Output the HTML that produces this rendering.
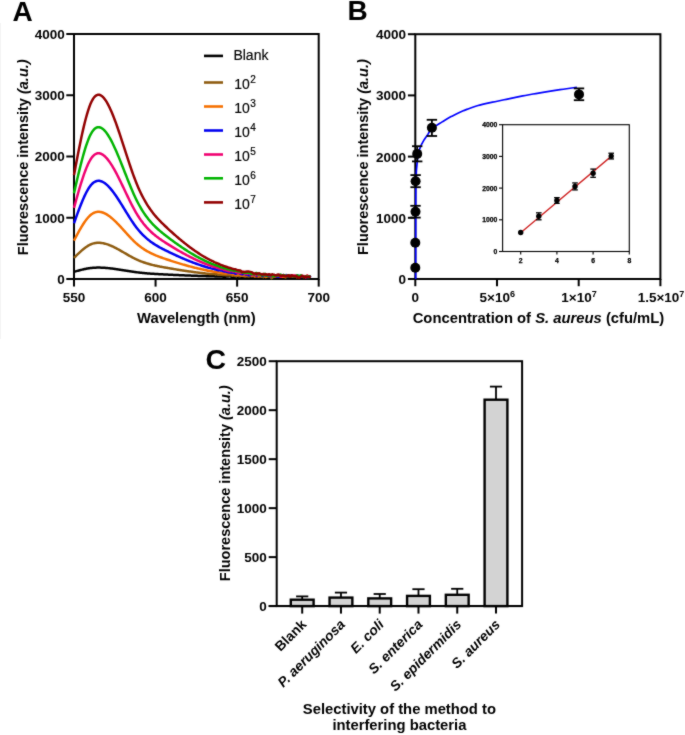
<!DOCTYPE html>
<html><head><meta charset="utf-8"><style>
html,body{margin:0;padding:0;background:#fff;}
body{width:685px;height:735px;overflow:hidden;}
svg{display:block;will-change:transform;}
</style></head><body>
<svg width="685" height="735" viewBox="0 0 685 735">
<defs><filter id="soft" x="0" y="0" width="100%" height="100%" filterUnits="userSpaceOnUse" color-interpolation-filters="sRGB"><feConvolveMatrix order="3" kernelMatrix="1 2 1 2 20 2 1 2 1" edgeMode="duplicate"/></filter></defs>
<g font-family='"Liberation Sans", sans-serif' filter="url(#soft)">
<rect x="0" y="0" width="685" height="735" fill="#fff"/>
<rect x="0" y="23" width="1" height="316" fill="#f3f3f3"/>
<text x="12.40" y="20.60" font-size="28" font-weight="bold" text-anchor="start" fill="#000" >A</text>
<text x="347.60" y="20.30" font-size="28" font-weight="bold" text-anchor="start" fill="#000" >B</text>
<text x="205.60" y="368.60" font-size="28.5" font-weight="bold" text-anchor="start" fill="#000" >C</text>
<rect x="74.0" y="34.0" width="244.7" height="245.0" fill="none" stroke="#000" stroke-width="2.0"/>
<line x1="66.30" y1="279.00" x2="74.00" y2="279.00" stroke="#000" stroke-width="2.0" />
<text x="64.80" y="283.90" font-size="13.5" font-weight="bold" text-anchor="end" fill="#000" >0</text>
<line x1="66.30" y1="217.75" x2="74.00" y2="217.75" stroke="#000" stroke-width="2.0" />
<text x="64.80" y="222.65" font-size="13.5" font-weight="bold" text-anchor="end" fill="#000" >1000</text>
<line x1="66.30" y1="156.50" x2="74.00" y2="156.50" stroke="#000" stroke-width="2.0" />
<text x="64.80" y="161.40" font-size="13.5" font-weight="bold" text-anchor="end" fill="#000" >2000</text>
<line x1="66.30" y1="95.25" x2="74.00" y2="95.25" stroke="#000" stroke-width="2.0" />
<text x="64.80" y="100.15" font-size="13.5" font-weight="bold" text-anchor="end" fill="#000" >3000</text>
<line x1="66.30" y1="34.00" x2="74.00" y2="34.00" stroke="#000" stroke-width="2.0" />
<text x="64.80" y="38.90" font-size="13.5" font-weight="bold" text-anchor="end" fill="#000" >4000</text>
<line x1="74.00" y1="279.00" x2="74.00" y2="286.60" stroke="#000" stroke-width="2.0" />
<text x="74.00" y="301.90" font-size="13.5" font-weight="bold" text-anchor="middle" fill="#000" >550</text>
<line x1="155.57" y1="279.00" x2="155.57" y2="286.60" stroke="#000" stroke-width="2.0" />
<text x="155.57" y="301.90" font-size="13.5" font-weight="bold" text-anchor="middle" fill="#000" >600</text>
<line x1="237.13" y1="279.00" x2="237.13" y2="286.60" stroke="#000" stroke-width="2.0" />
<text x="237.13" y="301.90" font-size="13.5" font-weight="bold" text-anchor="middle" fill="#000" >650</text>
<line x1="318.70" y1="279.00" x2="318.70" y2="286.60" stroke="#000" stroke-width="2.0" />
<text x="318.70" y="301.90" font-size="13.5" font-weight="bold" text-anchor="middle" fill="#000" >700</text>
<text x="196.35" y="323.30" font-size="14.8" font-weight="bold" text-anchor="middle" fill="#000" >Wavelength (nm)</text>
<text x="0.00" y="0.00" font-size="14.5" font-weight="bold" text-anchor="middle" transform="translate(27.5,157.30) rotate(-90)" fill="#000" >Fluorescence intensity <tspan font-style="italic">(a.u.)</tspan></text>
<path d="M74.00,271.81 L74.82,271.58 L75.63,271.35 L76.45,271.12 L77.26,270.90 L78.08,270.68 L78.89,270.46 L79.71,270.25 L80.53,270.04 L81.34,269.84 L82.16,269.64 L82.97,269.45 L83.79,269.26 L84.60,269.09 L85.42,268.92 L86.23,268.76 L87.05,268.60 L87.87,268.46 L88.68,268.33 L89.50,268.21 L90.31,268.09 L91.13,267.99 L91.94,267.91 L92.76,267.83 L93.58,267.76 L94.39,267.71 L95.21,267.67 L96.02,267.63 L96.84,267.61 L97.65,267.59 L98.47,267.59 L99.29,267.59 L100.10,267.61 L100.92,267.63 L101.73,267.65 L102.55,267.69 L103.36,267.73 L104.18,267.78 L105.00,267.84 L105.81,267.90 L106.63,267.97 L107.44,268.04 L108.26,268.12 L109.07,268.21 L109.89,268.29 L110.70,268.39 L111.52,268.49 L112.34,268.59 L113.15,268.69 L113.97,268.80 L114.78,268.91 L115.60,269.03 L116.41,269.15 L117.23,269.27 L118.05,269.39 L118.86,269.52 L119.68,269.64 L120.49,269.77 L121.31,269.90 L122.12,270.03 L122.94,270.17 L123.76,270.30 L124.57,270.43 L125.39,270.56 L126.20,270.69 L127.02,270.83 L127.83,270.96 L128.65,271.09 L129.47,271.22 L130.28,271.34 L131.10,271.47 L131.91,271.59 L132.73,271.71 L133.54,271.83 L134.36,271.95 L135.18,272.06 L135.99,272.17 L136.81,272.28 L137.62,272.38 L138.44,272.48 L139.25,272.57 L140.07,272.67 L140.88,272.76 L141.70,272.84 L142.52,272.93 L143.33,273.01 L144.15,273.09 L144.96,273.16 L145.78,273.24 L146.59,273.31 L147.41,273.38 L148.23,273.44 L149.04,273.51 L149.86,273.57 L150.67,273.63 L151.49,273.69 L152.30,273.75 L153.12,273.80 L153.94,273.86 L154.75,273.91 L155.57,273.96 L156.38,274.01 L157.20,274.06 L158.01,274.10 L158.83,274.15 L159.64,274.20 L160.46,274.24 L161.28,274.28 L162.09,274.33 L162.91,274.37 L163.72,274.41 L164.54,274.45 L165.35,274.49 L166.17,274.53 L166.99,274.57 L167.80,274.61 L168.62,274.65 L169.43,274.69 L170.25,274.73 L171.06,274.77 L171.88,274.81 L172.70,274.85 L173.51,274.88 L174.33,274.92 L175.14,274.96 L175.96,275.00 L176.77,275.03 L177.59,275.07 L178.41,275.11 L179.22,275.14 L180.04,275.18 L180.85,275.22 L181.67,275.25 L182.48,275.29 L183.30,275.32 L184.12,275.35 L184.93,275.39 L185.75,275.42 L186.56,275.46 L187.38,275.49 L188.19,275.52 L189.01,275.55 L189.82,275.59 L190.64,275.62 L191.46,275.65 L192.27,275.68 L193.09,275.71 L193.90,275.74 L194.72,275.77 L195.53,275.80 L196.35,275.83 L197.17,275.86 L197.98,275.89 L198.80,275.92 L199.61,275.94 L200.43,275.97 L201.24,276.00 L202.06,276.02 L202.88,276.05 L203.69,276.08 L204.51,276.10 L205.32,276.12 L206.14,276.13 L206.95,276.15 L207.77,276.16 L208.59,276.18 L209.40,276.26 L210.22,276.24 L211.03,276.28 L211.85,276.23 L212.66,276.16 L213.48,276.16 L214.29,276.23 L215.11,276.42 L215.93,276.43 L216.74,276.35 L217.56,276.43 L218.37,276.48 L219.19,276.45 L220.00,276.33 L220.82,276.41 L221.64,276.49 L222.45,276.50 L223.27,276.77 L224.08,276.80 L224.90,276.86 L225.71,276.76 L226.53,276.45 L227.35,276.46 L228.16,276.53 L228.98,276.29 L229.79,276.36 L230.61,276.61 L231.42,276.72 L232.24,277.07 L233.06,276.89 L233.87,276.94 L234.69,276.98 L235.50,276.63 L236.32,276.53 L237.13,276.55 L237.95,276.99 L238.76,276.91 L239.58,276.86 L240.40,277.00 L241.21,276.86 L242.03,276.86 L242.84,276.93 L243.66,277.12 L244.47,277.14 L245.29,277.51 L246.11,277.52 L246.92,277.27 L247.74,276.92 L248.55,276.19 L249.37,277.11 L250.18,277.47 L251.00,276.91 L251.82,277.30 L252.63,277.10 L253.45,276.91 L254.26,277.68 L255.08,277.62 L255.89,277.09 L256.71,276.97 L257.52,277.33 L258.34,277.17 L259.16,276.53 L259.97,277.11 L260.79,277.58 L261.60,277.23 L262.42,277.20 L263.23,276.61 L264.05,276.35 L264.87,277.27 L265.68,277.60 L266.50,277.29 L267.31,276.27 L268.13,276.32 L268.94,277.04 L269.76,276.81 L270.58,276.87 L271.39,276.29 L272.21,276.45 L273.02,276.96 L273.84,276.74 L274.65,276.78 L275.47,277.23 L276.29,276.85 L277.10,276.51 L277.92,277.08 L278.73,277.35 L279.55,277.60 L280.36,277.11 L281.18,276.55 L282.00,276.49 L282.81,276.42 L283.63,276.43 L284.44,276.83 L285.26,276.79 L286.07,276.61 L286.89,276.92 L287.70,276.88 L288.52,276.42 L289.34,276.59 L290.15,277.13 L290.97,276.97 L291.78,276.23 L292.60,276.54 L293.41,277.20 L294.23,277.18 L295.05,276.75 L295.86,277.32 L296.68,277.60 L297.49,276.61 L298.31,277.00 L299.12,276.90 L299.94,276.46 L300.76,277.14 L301.57,277.25 L302.39,277.58 L303.20,277.84 L304.02,276.74 L304.83,276.85 L305.65,276.85 L306.47,276.58 L307.28,276.86 L308.10,276.82 L308.91,277.89 L309.73,278.09 L310.54,277.29" fill="none" stroke="#000000" stroke-width="2.5" stroke-linejoin="round"/>
<path d="M74.00,257.92 L74.82,257.10 L75.63,256.28 L76.45,255.47 L77.26,254.66 L78.08,253.87 L78.89,253.09 L79.71,252.32 L80.53,251.58 L81.34,250.85 L82.16,250.14 L82.97,249.45 L83.79,248.79 L84.60,248.15 L85.42,247.54 L86.23,246.96 L87.05,246.42 L87.87,245.90 L88.68,245.43 L89.50,244.99 L90.31,244.59 L91.13,244.23 L91.94,243.91 L92.76,243.64 L93.58,243.40 L94.39,243.21 L95.21,243.05 L96.02,242.93 L96.84,242.84 L97.65,242.79 L98.47,242.77 L99.29,242.79 L100.10,242.83 L100.92,242.90 L101.73,243.00 L102.55,243.13 L103.36,243.29 L104.18,243.47 L105.00,243.67 L105.81,243.89 L106.63,244.13 L107.44,244.40 L108.26,244.68 L109.07,244.98 L109.89,245.30 L110.70,245.64 L111.52,245.99 L112.34,246.36 L113.15,246.74 L113.97,247.13 L114.78,247.53 L115.60,247.95 L116.41,248.37 L117.23,248.81 L118.05,249.25 L118.86,249.70 L119.68,250.16 L120.49,250.62 L121.31,251.08 L122.12,251.55 L122.94,252.03 L123.76,252.50 L124.57,252.98 L125.39,253.45 L126.20,253.93 L127.02,254.40 L127.83,254.87 L128.65,255.34 L129.47,255.80 L130.28,256.26 L131.10,256.71 L131.91,257.15 L132.73,257.59 L133.54,258.01 L134.36,258.43 L135.18,258.83 L135.99,259.23 L136.81,259.61 L137.62,259.97 L138.44,260.33 L139.25,260.68 L140.07,261.01 L140.88,261.33 L141.70,261.65 L142.52,261.95 L143.33,262.24 L144.15,262.53 L144.96,262.80 L145.78,263.06 L146.59,263.32 L147.41,263.57 L148.23,263.81 L149.04,264.04 L149.86,264.26 L150.67,264.48 L151.49,264.69 L152.30,264.90 L153.12,265.10 L153.94,265.29 L154.75,265.48 L155.57,265.66 L156.38,265.84 L157.20,266.01 L158.01,266.18 L158.83,266.34 L159.64,266.51 L160.46,266.66 L161.28,266.82 L162.09,266.97 L162.91,267.12 L163.72,267.27 L164.54,267.42 L165.35,267.57 L166.17,267.71 L166.99,267.85 L167.80,268.00 L168.62,268.14 L169.43,268.28 L170.25,268.42 L171.06,268.56 L171.88,268.70 L172.70,268.84 L173.51,268.98 L174.33,269.11 L175.14,269.25 L175.96,269.38 L176.77,269.52 L177.59,269.65 L178.41,269.78 L179.22,269.91 L180.04,270.04 L180.85,270.17 L181.67,270.29 L182.48,270.42 L183.30,270.54 L184.12,270.67 L184.93,270.79 L185.75,270.91 L186.56,271.03 L187.38,271.15 L188.19,271.27 L189.01,271.39 L189.82,271.50 L190.64,271.61 L191.46,271.73 L192.27,271.84 L193.09,271.95 L193.90,272.06 L194.72,272.17 L195.53,272.27 L196.35,272.38 L197.17,272.48 L197.98,272.58 L198.80,272.68 L199.61,272.78 L200.43,272.88 L201.24,272.98 L202.06,273.07 L202.88,273.17 L203.69,273.26 L204.51,273.35 L205.32,273.44 L206.14,273.56 L206.95,273.63 L207.77,273.69 L208.59,273.82 L209.40,273.91 L210.22,273.96 L211.03,274.03 L211.85,274.06 L212.66,274.11 L213.48,274.12 L214.29,274.12 L215.11,274.25 L215.93,274.33 L216.74,274.33 L217.56,274.42 L218.37,274.71 L219.19,274.76 L220.00,274.69 L220.82,274.66 L221.64,274.71 L222.45,274.89 L223.27,274.91 L224.08,274.81 L224.90,274.88 L225.71,275.19 L226.53,275.23 L227.35,275.30 L228.16,275.37 L228.98,275.35 L229.79,275.38 L230.61,275.09 L231.42,275.25 L232.24,275.63 L233.06,275.63 L233.87,275.55 L234.69,275.78 L235.50,276.11 L236.32,275.91 L237.13,275.69 L237.95,275.72 L238.76,275.99 L239.58,276.22 L240.40,276.02 L241.21,275.49 L242.03,275.56 L242.84,275.90 L243.66,275.90 L244.47,276.22 L245.29,276.45 L246.11,276.30 L246.92,276.16 L247.74,276.12 L248.55,276.58 L249.37,276.27 L250.18,275.42 L251.00,275.85 L251.82,276.27 L252.63,276.12 L253.45,276.01 L254.26,276.60 L255.08,276.35 L255.89,276.04 L256.71,276.17 L257.52,276.00 L258.34,276.54 L259.16,276.61 L259.97,276.19 L260.79,276.42 L261.60,276.83 L262.42,276.70 L263.23,277.13 L264.05,276.55 L264.87,275.80 L265.68,276.23 L266.50,276.03 L267.31,276.33 L268.13,276.73 L268.94,275.85 L269.76,275.51 L270.58,276.78 L271.39,278.17 L272.21,277.78 L273.02,276.35 L273.84,276.16 L274.65,276.57 L275.47,276.22 L276.29,276.43 L277.10,276.55 L277.92,276.00 L278.73,275.91 L279.55,276.04 L280.36,276.38 L281.18,276.34 L282.00,276.28 L282.81,276.02 L283.63,275.04 L284.44,275.70 L285.26,277.24 L286.07,277.14 L286.89,276.31 L287.70,275.83 L288.52,275.61 L289.34,276.20 L290.15,276.81 L290.97,276.15 L291.78,276.25 L292.60,276.31 L293.41,276.04 L294.23,276.15 L295.05,275.86 L295.86,275.87 L296.68,275.84 L297.49,276.43 L298.31,276.61 L299.12,276.30 L299.94,276.32 L300.76,275.94 L301.57,276.15 L302.39,276.80 L303.20,276.98 L304.02,276.87 L304.83,276.42 L305.65,276.62 L306.47,276.49 L307.28,276.12 L308.10,276.56 L308.91,277.08 L309.73,276.91 L310.54,276.25" fill="none" stroke="#8E5C10" stroke-width="2.5" stroke-linejoin="round"/>
<path d="M74.00,240.60 L74.82,239.03 L75.63,237.47 L76.45,235.92 L77.26,234.40 L78.08,232.89 L78.89,231.41 L79.71,229.95 L80.53,228.53 L81.34,227.14 L82.16,225.79 L82.97,224.49 L83.79,223.23 L84.60,222.02 L85.42,220.86 L86.23,219.76 L87.05,218.72 L87.87,217.75 L88.68,216.84 L89.50,216.00 L90.31,215.24 L91.13,214.56 L91.94,213.96 L92.76,213.44 L93.58,212.99 L94.39,212.62 L95.21,212.32 L96.02,212.09 L96.84,211.93 L97.65,211.83 L98.47,211.80 L99.29,211.82 L100.10,211.91 L100.92,212.05 L101.73,212.24 L102.55,212.48 L103.36,212.77 L104.18,213.11 L105.00,213.50 L105.81,213.92 L106.63,214.39 L107.44,214.89 L108.26,215.43 L109.07,216.00 L109.89,216.61 L110.70,217.25 L111.52,217.92 L112.34,218.61 L113.15,219.33 L113.97,220.08 L114.78,220.85 L115.60,221.63 L116.41,222.44 L117.23,223.27 L118.05,224.11 L118.86,224.97 L119.68,225.83 L120.49,226.71 L121.31,227.60 L122.12,228.49 L122.94,229.39 L123.76,230.29 L124.57,231.19 L125.39,232.10 L126.20,233.00 L127.02,233.90 L127.83,234.79 L128.65,235.68 L129.47,236.56 L130.28,237.43 L131.10,238.28 L131.91,239.13 L132.73,239.95 L133.54,240.76 L134.36,241.55 L135.18,242.32 L135.99,243.07 L136.81,243.79 L137.62,244.49 L138.44,245.17 L139.25,245.83 L140.07,246.46 L140.88,247.08 L141.70,247.67 L142.52,248.25 L143.33,248.80 L144.15,249.34 L144.96,249.86 L145.78,250.36 L146.59,250.85 L147.41,251.32 L148.23,251.78 L149.04,252.22 L149.86,252.65 L150.67,253.06 L151.49,253.46 L152.30,253.85 L153.12,254.23 L153.94,254.59 L154.75,254.95 L155.57,255.30 L156.38,255.64 L157.20,255.96 L158.01,256.29 L158.83,256.60 L159.64,256.91 L160.46,257.21 L161.28,257.50 L162.09,257.79 L162.91,258.08 L163.72,258.36 L164.54,258.64 L165.35,258.92 L166.17,259.20 L166.99,259.47 L167.80,259.74 L168.62,260.01 L169.43,260.28 L170.25,260.55 L171.06,260.82 L171.88,261.08 L172.70,261.34 L173.51,261.60 L174.33,261.86 L175.14,262.12 L175.96,262.38 L176.77,262.63 L177.59,262.88 L178.41,263.13 L179.22,263.38 L180.04,263.62 L180.85,263.87 L181.67,264.11 L182.48,264.35 L183.30,264.58 L184.12,264.82 L184.93,265.05 L185.75,265.28 L186.56,265.51 L187.38,265.74 L188.19,265.96 L189.01,266.18 L189.82,266.40 L190.64,266.62 L191.46,266.83 L192.27,267.04 L193.09,267.25 L193.90,267.46 L194.72,267.67 L195.53,267.87 L196.35,268.07 L197.17,268.26 L197.98,268.46 L198.80,268.65 L199.61,268.84 L200.43,269.03 L201.24,269.21 L202.06,269.39 L202.88,269.57 L203.69,269.74 L204.51,269.92 L205.32,270.08 L206.14,270.25 L206.95,270.45 L207.77,270.68 L208.59,270.83 L209.40,270.97 L210.22,271.09 L211.03,271.15 L211.85,271.29 L212.66,271.49 L213.48,271.64 L214.29,271.68 L215.11,271.86 L215.93,272.01 L216.74,272.03 L217.56,272.20 L218.37,272.25 L219.19,272.45 L220.00,272.62 L220.82,272.75 L221.64,273.05 L222.45,273.19 L223.27,273.16 L224.08,273.25 L224.90,273.41 L225.71,273.54 L226.53,273.50 L227.35,273.17 L228.16,273.37 L228.98,273.48 L229.79,273.51 L230.61,273.50 L231.42,273.65 L232.24,274.38 L233.06,274.21 L233.87,274.02 L234.69,274.57 L235.50,274.76 L236.32,274.96 L237.13,274.94 L237.95,274.90 L238.76,274.61 L239.58,274.29 L240.40,275.06 L241.21,275.63 L242.03,275.45 L242.84,275.62 L243.66,275.57 L244.47,275.16 L245.29,275.39 L246.11,275.57 L246.92,275.29 L247.74,274.80 L248.55,274.55 L249.37,274.98 L250.18,275.20 L251.00,275.47 L251.82,275.64 L252.63,275.75 L253.45,275.70 L254.26,275.82 L255.08,276.39 L255.89,276.04 L256.71,275.60 L257.52,276.07 L258.34,276.43 L259.16,275.96 L259.97,275.74 L260.79,276.06 L261.60,276.12 L262.42,275.96 L263.23,275.57 L264.05,275.32 L264.87,276.19 L265.68,277.06 L266.50,276.62 L267.31,275.58 L268.13,275.57 L268.94,275.67 L269.76,275.89 L270.58,276.59 L271.39,276.22 L272.21,275.77 L273.02,275.80 L273.84,276.27 L274.65,276.43 L275.47,276.20 L276.29,276.01 L277.10,276.01 L277.92,276.45 L278.73,276.46 L279.55,275.89 L280.36,275.70 L281.18,276.34 L282.00,276.67 L282.81,276.77 L283.63,276.00 L284.44,276.25 L285.26,276.97 L286.07,276.22 L286.89,275.60 L287.70,275.85 L288.52,275.98 L289.34,275.71 L290.15,275.66 L290.97,275.89 L291.78,275.69 L292.60,275.65 L293.41,275.70 L294.23,276.12 L295.05,276.32 L295.86,276.38 L296.68,277.16 L297.49,276.63 L298.31,276.44 L299.12,276.47 L299.94,276.57 L300.76,276.23 L301.57,275.92 L302.39,276.80 L303.20,276.77 L304.02,276.18 L304.83,276.50 L305.65,276.65 L306.47,275.78 L307.28,275.66 L308.10,276.29 L308.91,276.72 L309.73,276.53 L310.54,276.81" fill="none" stroke="#F57000" stroke-width="2.5" stroke-linejoin="round"/>
<path d="M74.00,223.27 L74.82,220.96 L75.63,218.66 L76.45,216.38 L77.26,214.13 L78.08,211.91 L78.89,209.72 L79.71,207.58 L80.53,205.48 L81.34,203.44 L82.16,201.45 L82.97,199.53 L83.79,197.67 L84.60,195.89 L85.42,194.18 L86.23,192.56 L87.05,191.03 L87.87,189.59 L88.68,188.25 L89.50,187.02 L90.31,185.90 L91.13,184.90 L91.94,184.01 L92.76,183.24 L93.58,182.59 L94.39,182.04 L95.21,181.60 L96.02,181.26 L96.84,181.02 L97.65,180.87 L98.47,180.82 L99.29,180.86 L100.10,180.98 L100.92,181.19 L101.73,181.47 L102.55,181.83 L103.36,182.26 L104.18,182.76 L105.00,183.33 L105.81,183.95 L106.63,184.64 L107.44,185.38 L108.26,186.17 L109.07,187.02 L109.89,187.91 L110.70,188.85 L111.52,189.84 L112.34,190.86 L113.15,191.93 L113.97,193.03 L114.78,194.16 L115.60,195.32 L116.41,196.51 L117.23,197.73 L118.05,198.97 L118.86,200.23 L119.68,201.51 L120.49,202.80 L121.31,204.11 L122.12,205.42 L122.94,206.75 L123.76,208.08 L124.57,209.41 L125.39,210.74 L126.20,212.07 L127.02,213.40 L127.83,214.72 L128.65,216.02 L129.47,217.32 L130.28,218.60 L131.10,219.86 L131.91,221.10 L132.73,222.32 L133.54,223.51 L134.36,224.68 L135.18,225.81 L135.99,226.91 L136.81,227.98 L137.62,229.01 L138.44,230.01 L139.25,230.98 L140.07,231.92 L140.88,232.82 L141.70,233.70 L142.52,234.54 L143.33,235.36 L144.15,236.16 L144.96,236.92 L145.78,237.67 L146.59,238.38 L147.41,239.08 L148.23,239.75 L149.04,240.40 L149.86,241.03 L150.67,241.64 L151.49,242.23 L152.30,242.80 L153.12,243.36 L153.94,243.90 L154.75,244.43 L155.57,244.94 L156.38,245.43 L157.20,245.92 L158.01,246.39 L158.83,246.85 L159.64,247.31 L160.46,247.75 L161.28,248.19 L162.09,248.62 L162.91,249.04 L163.72,249.45 L164.54,249.87 L165.35,250.28 L166.17,250.68 L166.99,251.09 L167.80,251.49 L168.62,251.89 L169.43,252.29 L170.25,252.68 L171.06,253.07 L171.88,253.46 L172.70,253.85 L173.51,254.23 L174.33,254.61 L175.14,254.99 L175.96,255.37 L176.77,255.74 L177.59,256.11 L178.41,256.48 L179.22,256.84 L180.04,257.21 L180.85,257.56 L181.67,257.92 L182.48,258.27 L183.30,258.62 L184.12,258.97 L184.93,259.31 L185.75,259.65 L186.56,259.99 L187.38,260.32 L188.19,260.65 L189.01,260.98 L189.82,261.30 L190.64,261.62 L191.46,261.94 L192.27,262.25 L193.09,262.56 L193.90,262.86 L194.72,263.17 L195.53,263.46 L196.35,263.76 L197.17,264.05 L197.98,264.33 L198.80,264.62 L199.61,264.90 L200.43,265.17 L201.24,265.44 L202.06,265.71 L202.88,265.97 L203.69,266.23 L204.51,266.48 L205.32,266.74 L206.14,267.02 L206.95,267.24 L207.77,267.48 L208.59,267.70 L209.40,267.90 L210.22,268.12 L211.03,268.39 L211.85,268.60 L212.66,268.65 L213.48,268.92 L214.29,269.16 L215.11,269.23 L215.93,269.46 L216.74,269.73 L217.56,270.07 L218.37,270.33 L219.19,270.33 L220.00,270.31 L220.82,270.42 L221.64,270.58 L222.45,270.77 L223.27,271.09 L224.08,271.52 L224.90,271.59 L225.71,271.50 L226.53,271.66 L227.35,272.11 L228.16,272.35 L228.98,272.49 L229.79,272.52 L230.61,272.58 L231.42,272.76 L232.24,272.63 L233.06,272.69 L233.87,272.60 L234.69,272.96 L235.50,273.80 L236.32,273.49 L237.13,272.81 L237.95,272.79 L238.76,273.13 L239.58,273.43 L240.40,273.55 L241.21,274.09 L242.03,274.36 L242.84,273.99 L243.66,274.08 L244.47,273.78 L245.29,274.11 L246.11,274.84 L246.92,274.17 L247.74,274.29 L248.55,275.02 L249.37,275.32 L250.18,275.27 L251.00,274.45 L251.82,274.15 L252.63,274.52 L253.45,274.88 L254.26,274.83 L255.08,274.67 L255.89,275.31 L256.71,275.54 L257.52,275.22 L258.34,274.73 L259.16,274.85 L259.97,275.11 L260.79,274.47 L261.60,274.93 L262.42,276.03 L263.23,275.48 L264.05,274.96 L264.87,275.35 L265.68,275.43 L266.50,275.54 L267.31,275.48 L268.13,275.51 L268.94,275.44 L269.76,275.74 L270.58,276.29 L271.39,275.89 L272.21,275.80 L273.02,275.63 L273.84,275.51 L274.65,275.93 L275.47,275.87 L276.29,275.88 L277.10,276.48 L277.92,276.70 L278.73,276.47 L279.55,276.27 L280.36,275.99 L281.18,275.55 L282.00,275.42 L282.81,275.15 L283.63,274.93 L284.44,275.59 L285.26,275.49 L286.07,275.05 L286.89,275.76 L287.70,276.06 L288.52,275.57 L289.34,275.61 L290.15,275.66 L290.97,275.62 L291.78,275.75 L292.60,276.00 L293.41,276.13 L294.23,276.16 L295.05,276.09 L295.86,276.55 L296.68,276.68 L297.49,275.74 L298.31,275.69 L299.12,276.13 L299.94,276.17 L300.76,276.47 L301.57,276.95 L302.39,276.82 L303.20,276.63 L304.02,276.23 L304.83,276.51 L305.65,276.53 L306.47,276.76 L307.28,277.34 L308.10,276.82 L308.91,276.17 L309.73,276.35 L310.54,277.42" fill="none" stroke="#0000F0" stroke-width="2.5" stroke-linejoin="round"/>
<path d="M74.00,207.85 L74.82,204.88 L75.63,201.92 L76.45,199.00 L77.26,196.10 L78.08,193.24 L78.89,190.43 L79.71,187.68 L80.53,184.98 L81.34,182.35 L82.16,179.79 L82.97,177.32 L83.79,174.93 L84.60,172.63 L85.42,170.44 L86.23,168.36 L87.05,166.39 L87.87,164.54 L88.68,162.82 L89.50,161.24 L90.31,159.80 L91.13,158.50 L91.94,157.36 L92.76,156.37 L93.58,155.53 L94.39,154.83 L95.21,154.26 L96.02,153.82 L96.84,153.51 L97.65,153.33 L98.47,153.26 L99.29,153.31 L100.10,153.47 L100.92,153.73 L101.73,154.10 L102.55,154.56 L103.36,155.11 L104.18,155.76 L105.00,156.48 L105.81,157.29 L106.63,158.17 L107.44,159.12 L108.26,160.14 L109.07,161.23 L109.89,162.38 L110.70,163.59 L111.52,164.86 L112.34,166.18 L113.15,167.54 L113.97,168.96 L114.78,170.41 L115.60,171.91 L116.41,173.44 L117.23,175.01 L118.05,176.60 L118.86,178.22 L119.68,179.87 L120.49,181.53 L121.31,183.21 L122.12,184.90 L122.94,186.61 L123.76,188.32 L124.57,190.03 L125.39,191.74 L126.20,193.45 L127.02,195.16 L127.83,196.85 L128.65,198.53 L129.47,200.20 L130.28,201.84 L131.10,203.47 L131.91,205.06 L132.73,206.63 L133.54,208.16 L134.36,209.66 L135.18,211.12 L135.99,212.54 L136.81,213.91 L137.62,215.24 L138.44,216.52 L139.25,217.77 L140.07,218.97 L140.88,220.14 L141.70,221.26 L142.52,222.35 L143.33,223.41 L144.15,224.43 L144.96,225.41 L145.78,226.37 L146.59,227.29 L147.41,228.18 L148.23,229.05 L149.04,229.88 L149.86,230.69 L150.67,231.48 L151.49,232.24 L152.30,232.97 L153.12,233.69 L153.94,234.38 L154.75,235.06 L155.57,235.72 L156.38,236.36 L157.20,236.98 L158.01,237.59 L158.83,238.18 L159.64,238.77 L160.46,239.34 L161.28,239.90 L162.09,240.45 L162.91,240.99 L163.72,241.53 L164.54,242.06 L165.35,242.58 L166.17,243.11 L166.99,243.63 L167.80,244.14 L168.62,244.66 L169.43,245.17 L170.25,245.68 L171.06,246.18 L171.88,246.68 L172.70,247.18 L173.51,247.67 L174.33,248.16 L175.14,248.65 L175.96,249.13 L176.77,249.61 L177.59,250.09 L178.41,250.56 L179.22,251.03 L180.04,251.50 L180.85,251.96 L181.67,252.42 L182.48,252.87 L183.30,253.32 L184.12,253.76 L184.93,254.21 L185.75,254.64 L186.56,255.08 L187.38,255.50 L188.19,255.93 L189.01,256.35 L189.82,256.76 L190.64,257.18 L191.46,257.58 L192.27,257.98 L193.09,258.38 L193.90,258.77 L194.72,259.16 L195.53,259.54 L196.35,259.92 L197.17,260.30 L197.98,260.67 L198.80,261.03 L199.61,261.39 L200.43,261.74 L201.24,262.09 L202.06,262.43 L202.88,262.77 L203.69,263.10 L204.51,263.43 L205.32,263.76 L206.14,264.05 L206.95,264.35 L207.77,264.67 L208.59,264.98 L209.40,265.27 L210.22,265.54 L211.03,265.83 L211.85,266.13 L212.66,266.45 L213.48,266.77 L214.29,266.95 L215.11,267.09 L215.93,267.29 L216.74,267.58 L217.56,267.98 L218.37,268.16 L219.19,268.24 L220.00,268.69 L220.82,268.90 L221.64,268.86 L222.45,268.95 L223.27,269.37 L224.08,269.98 L224.90,269.91 L225.71,270.18 L226.53,270.61 L227.35,270.70 L228.16,270.93 L228.98,271.26 L229.79,271.30 L230.61,270.94 L231.42,270.96 L232.24,271.22 L233.06,271.53 L233.87,271.46 L234.69,271.41 L235.50,271.63 L236.32,272.23 L237.13,272.53 L237.95,272.57 L238.76,272.70 L239.58,272.49 L240.40,272.99 L241.21,273.12 L242.03,272.61 L242.84,272.63 L243.66,272.88 L244.47,273.37 L245.29,273.85 L246.11,274.03 L246.92,273.89 L247.74,273.27 L248.55,273.25 L249.37,273.71 L250.18,274.31 L251.00,274.25 L251.82,274.03 L252.63,274.92 L253.45,275.53 L254.26,275.05 L255.08,274.83 L255.89,274.19 L256.71,273.93 L257.52,274.94 L258.34,275.19 L259.16,274.32 L259.97,274.54 L260.79,274.88 L261.60,274.44 L262.42,274.25 L263.23,274.26 L264.05,274.97 L264.87,275.02 L265.68,274.90 L266.50,274.78 L267.31,274.87 L268.13,274.55 L268.94,274.61 L269.76,275.18 L270.58,275.42 L271.39,275.56 L272.21,275.35 L273.02,275.37 L273.84,275.09 L274.65,275.37 L275.47,276.02 L276.29,275.47 L277.10,275.30 L277.92,275.95 L278.73,275.47 L279.55,274.99 L280.36,276.35 L281.18,276.79 L282.00,275.60 L282.81,275.20 L283.63,275.68 L284.44,275.45 L285.26,275.57 L286.07,276.23 L286.89,275.93 L287.70,275.88 L288.52,275.66 L289.34,275.32 L290.15,275.65 L290.97,275.54 L291.78,275.79 L292.60,276.39 L293.41,275.57 L294.23,275.48 L295.05,275.74 L295.86,275.96 L296.68,276.45 L297.49,276.37 L298.31,276.25 L299.12,276.36 L299.94,276.44 L300.76,276.12 L301.57,275.73 L302.39,275.97 L303.20,276.20 L304.02,275.95 L304.83,276.59 L305.65,277.51 L306.47,276.57 L307.28,275.54 L308.10,276.07 L308.91,276.40 L309.73,276.75 L310.54,277.35" fill="none" stroke="#F00070" stroke-width="2.5" stroke-linejoin="round"/>
<path d="M74.00,193.25 L74.82,189.65 L75.63,186.08 L76.45,182.53 L77.26,179.02 L78.08,175.57 L78.89,172.16 L79.71,168.83 L80.53,165.56 L81.34,162.38 L82.16,159.28 L82.97,156.29 L83.79,153.39 L84.60,150.62 L85.42,147.96 L86.23,145.44 L87.05,143.05 L87.87,140.82 L88.68,138.74 L89.50,136.82 L90.31,135.07 L91.13,133.51 L91.94,132.13 L92.76,130.93 L93.58,129.91 L94.39,129.06 L95.21,128.37 L96.02,127.84 L96.84,127.47 L97.65,127.25 L98.47,127.17 L99.29,127.22 L100.10,127.42 L100.92,127.73 L101.73,128.18 L102.55,128.74 L103.36,129.41 L104.18,130.18 L105.00,131.06 L105.81,132.04 L106.63,133.10 L107.44,134.26 L108.26,135.50 L109.07,136.81 L109.89,138.21 L110.70,139.67 L111.52,141.20 L112.34,142.80 L113.15,144.45 L113.97,146.17 L114.78,147.93 L115.60,149.74 L116.41,151.59 L117.23,153.49 L118.05,155.42 L118.86,157.38 L119.68,159.37 L120.49,161.39 L121.31,163.42 L122.12,165.47 L122.94,167.53 L123.76,169.60 L124.57,171.68 L125.39,173.75 L126.20,175.82 L127.02,177.89 L127.83,179.94 L128.65,181.97 L129.47,183.99 L130.28,185.98 L131.10,187.94 L131.91,189.88 L132.73,191.77 L133.54,193.63 L134.36,195.45 L135.18,197.21 L135.99,198.93 L136.81,200.59 L137.62,202.20 L138.44,203.75 L139.25,205.26 L140.07,206.72 L140.88,208.13 L141.70,209.49 L142.52,210.81 L143.33,212.08 L144.15,213.32 L144.96,214.51 L145.78,215.67 L146.59,216.78 L147.41,217.86 L148.23,218.91 L149.04,219.92 L149.86,220.90 L150.67,221.85 L151.49,222.77 L152.30,223.67 L153.12,224.53 L153.94,225.37 L154.75,226.19 L155.57,226.99 L156.38,227.76 L157.20,228.52 L158.01,229.25 L158.83,229.97 L159.64,230.68 L160.46,231.37 L161.28,232.05 L162.09,232.72 L162.91,233.37 L163.72,234.02 L164.54,234.66 L165.35,235.30 L166.17,235.93 L166.99,236.56 L167.80,237.19 L168.62,237.81 L169.43,238.43 L170.25,239.04 L171.06,239.65 L171.88,240.26 L172.70,240.86 L173.51,241.46 L174.33,242.05 L175.14,242.64 L175.96,243.23 L176.77,243.81 L177.59,244.39 L178.41,244.96 L179.22,245.53 L180.04,246.09 L180.85,246.65 L181.67,247.20 L182.48,247.75 L183.30,248.30 L184.12,248.84 L184.93,249.37 L185.75,249.90 L186.56,250.42 L187.38,250.94 L188.19,251.46 L189.01,251.96 L189.82,252.47 L190.64,252.97 L191.46,253.46 L192.27,253.94 L193.09,254.43 L193.90,254.90 L194.72,255.37 L195.53,255.83 L196.35,256.29 L197.17,256.74 L197.98,257.19 L198.80,257.63 L199.61,258.06 L200.43,258.49 L201.24,258.91 L202.06,259.33 L202.88,259.74 L203.69,260.14 L204.51,260.54 L205.32,260.92 L206.14,261.31 L206.95,261.69 L207.77,262.04 L208.59,262.41 L209.40,262.74 L210.22,263.08 L211.03,263.51 L211.85,263.83 L212.66,264.10 L213.48,264.44 L214.29,264.75 L215.11,264.91 L215.93,265.20 L216.74,265.62 L217.56,265.94 L218.37,266.15 L219.19,266.41 L220.00,266.86 L220.82,267.25 L221.64,267.38 L222.45,267.43 L223.27,267.90 L224.08,268.32 L224.90,268.30 L225.71,268.31 L226.53,268.78 L227.35,269.19 L228.16,269.12 L228.98,269.34 L229.79,269.74 L230.61,269.94 L231.42,270.28 L232.24,270.38 L233.06,270.30 L233.87,270.73 L234.69,270.94 L235.50,270.66 L236.32,270.80 L237.13,270.99 L237.95,271.29 L238.76,271.35 L239.58,271.55 L240.40,271.58 L241.21,271.64 L242.03,272.35 L242.84,272.59 L243.66,272.65 L244.47,272.69 L245.29,272.88 L246.11,272.97 L246.92,272.75 L247.74,272.55 L248.55,272.91 L249.37,272.92 L250.18,273.20 L251.00,273.91 L251.82,274.05 L252.63,273.70 L253.45,273.91 L254.26,274.57 L255.08,273.84 L255.89,273.03 L256.71,273.09 L257.52,274.09 L258.34,274.56 L259.16,273.96 L259.97,274.01 L260.79,274.79 L261.60,274.99 L262.42,275.08 L263.23,275.40 L264.05,274.35 L264.87,273.86 L265.68,274.96 L266.50,275.65 L267.31,275.15 L268.13,274.94 L268.94,274.96 L269.76,275.02 L270.58,275.29 L271.39,275.08 L272.21,275.37 L273.02,276.04 L273.84,276.12 L274.65,275.81 L275.47,275.57 L276.29,275.42 L277.10,275.42 L277.92,275.30 L278.73,275.57 L279.55,275.35 L280.36,274.56 L281.18,274.89 L282.00,275.44 L282.81,275.22 L283.63,275.13 L284.44,275.46 L285.26,275.73 L286.07,276.03 L286.89,276.35 L287.70,275.98 L288.52,275.33 L289.34,275.86 L290.15,276.26 L290.97,275.92 L291.78,276.06 L292.60,276.37 L293.41,276.40 L294.23,276.78 L295.05,276.72 L295.86,276.27 L296.68,275.67 L297.49,275.35 L298.31,276.10 L299.12,276.41 L299.94,275.85 L300.76,275.42 L301.57,275.90 L302.39,276.43 L303.20,276.94 L304.02,277.04 L304.83,276.71 L305.65,276.87 L306.47,276.33 L307.28,276.65 L308.10,277.17 L308.91,276.50 L309.73,276.33 L310.54,275.95" fill="none" stroke="#00B400" stroke-width="2.5" stroke-linejoin="round"/>
<path d="M74.00,175.11 L74.82,170.73 L75.63,166.38 L76.45,162.07 L77.26,157.80 L78.08,153.60 L78.89,149.46 L79.71,145.40 L80.53,141.43 L81.34,137.55 L82.16,133.79 L82.97,130.14 L83.79,126.63 L84.60,123.25 L85.42,120.02 L86.23,116.95 L87.05,114.05 L87.87,111.33 L88.68,108.80 L89.50,106.47 L90.31,104.35 L91.13,102.44 L91.94,100.77 L92.76,99.31 L93.58,98.07 L94.39,97.03 L95.21,96.19 L96.02,95.55 L96.84,95.10 L97.65,94.82 L98.47,94.73 L99.29,94.80 L100.10,95.03 L100.92,95.42 L101.73,95.96 L102.55,96.64 L103.36,97.45 L104.18,98.40 L105.00,99.47 L105.81,100.65 L106.63,101.95 L107.44,103.35 L108.26,104.86 L109.07,106.46 L109.89,108.16 L110.70,109.94 L111.52,111.80 L112.34,113.74 L113.15,115.75 L113.97,117.84 L114.78,119.98 L115.60,122.18 L116.41,124.44 L117.23,126.74 L118.05,129.09 L118.86,131.48 L119.68,133.90 L120.49,136.35 L121.31,138.82 L122.12,141.32 L122.94,143.82 L123.76,146.34 L124.57,148.86 L125.39,151.39 L126.20,153.91 L127.02,156.42 L127.83,158.91 L128.65,161.39 L129.47,163.84 L130.28,166.26 L131.10,168.65 L131.91,171.00 L132.73,173.31 L133.54,175.57 L134.36,177.77 L135.18,179.92 L135.99,182.01 L136.81,184.03 L137.62,185.98 L138.44,187.88 L139.25,189.71 L140.07,191.48 L140.88,193.20 L141.70,194.85 L142.52,196.46 L143.33,198.01 L144.15,199.51 L144.96,200.96 L145.78,202.37 L146.59,203.73 L147.41,205.04 L148.23,206.31 L149.04,207.54 L149.86,208.74 L150.67,209.89 L151.49,211.01 L152.30,212.10 L153.12,213.15 L153.94,214.17 L154.75,215.17 L155.57,216.14 L156.38,217.08 L157.20,218.00 L158.01,218.89 L158.83,219.77 L159.64,220.63 L160.46,221.47 L161.28,222.29 L162.09,223.10 L162.91,223.90 L163.72,224.69 L164.54,225.47 L165.35,226.25 L166.17,227.02 L166.99,227.78 L167.80,228.54 L168.62,229.30 L169.43,230.05 L170.25,230.80 L171.06,231.54 L171.88,232.28 L172.70,233.01 L173.51,233.74 L174.33,234.46 L175.14,235.18 L175.96,235.89 L176.77,236.60 L177.59,237.30 L178.41,238.00 L179.22,238.69 L180.04,239.37 L180.85,240.05 L181.67,240.72 L182.48,241.39 L183.30,242.05 L184.12,242.71 L184.93,243.36 L185.75,244.00 L186.56,244.64 L187.38,245.27 L188.19,245.90 L189.01,246.52 L189.82,247.13 L190.64,247.73 L191.46,248.33 L192.27,248.92 L193.09,249.51 L193.90,250.09 L194.72,250.66 L195.53,251.22 L196.35,251.78 L197.17,252.33 L197.98,252.87 L198.80,253.41 L199.61,253.93 L200.43,254.45 L201.24,254.97 L202.06,255.47 L202.88,255.97 L203.69,256.46 L204.51,256.94 L205.32,257.41 L206.14,257.85 L206.95,258.27 L207.77,258.74 L208.59,259.20 L209.40,259.60 L210.22,260.03 L211.03,260.43 L211.85,260.84 L212.66,261.23 L213.48,261.63 L214.29,262.08 L215.11,262.45 L215.93,262.76 L216.74,263.04 L217.56,263.39 L218.37,263.77 L219.19,264.00 L220.00,264.48 L220.82,264.98 L221.64,265.14 L222.45,265.41 L223.27,265.89 L224.08,266.07 L224.90,266.23 L225.71,266.78 L226.53,266.78 L227.35,267.08 L228.16,267.63 L228.98,267.79 L229.79,268.03 L230.61,268.06 L231.42,268.46 L232.24,268.81 L233.06,268.91 L233.87,269.30 L234.69,269.26 L235.50,269.24 L236.32,269.73 L237.13,270.10 L237.95,270.31 L238.76,270.32 L239.58,270.53 L240.40,270.45 L241.21,271.11 L242.03,272.10 L242.84,271.72 L243.66,271.82 L244.47,271.93 L245.29,271.78 L246.11,271.75 L246.92,271.60 L247.74,271.53 L248.55,271.51 L249.37,271.64 L250.18,271.86 L251.00,272.03 L251.82,272.15 L252.63,272.76 L253.45,273.42 L254.26,273.72 L255.08,273.28 L255.89,273.75 L256.71,273.94 L257.52,273.54 L258.34,273.47 L259.16,273.27 L259.97,273.84 L260.79,274.00 L261.60,274.58 L262.42,274.59 L263.23,273.82 L264.05,274.58 L264.87,274.54 L265.68,274.09 L266.50,274.38 L267.31,274.87 L268.13,274.82 L268.94,274.26 L269.76,274.53 L270.58,275.10 L271.39,274.92 L272.21,274.29 L273.02,274.47 L273.84,274.62 L274.65,274.99 L275.47,275.32 L276.29,275.08 L277.10,275.14 L277.92,274.43 L278.73,274.41 L279.55,275.52 L280.36,275.45 L281.18,275.67 L282.00,275.87 L282.81,275.34 L283.63,275.67 L284.44,276.06 L285.26,276.26 L286.07,276.17 L286.89,276.14 L287.70,275.69 L288.52,275.32 L289.34,275.99 L290.15,276.69 L290.97,276.03 L291.78,275.23 L292.60,275.77 L293.41,276.17 L294.23,276.32 L295.05,276.58 L295.86,276.09 L296.68,275.94 L297.49,277.03 L298.31,277.36 L299.12,277.77 L299.94,277.41 L300.76,276.41 L301.57,276.12 L302.39,275.75 L303.20,276.61 L304.02,277.18 L304.83,276.68 L305.65,276.62 L306.47,277.12 L307.28,277.12 L308.10,276.81 L308.91,276.64 L309.73,276.80 L310.54,277.31" fill="none" stroke="#920000" stroke-width="2.5" stroke-linejoin="round"/>
<line x1="204" y1="55.9" x2="223" y2="55.9" stroke="#000000" stroke-width="2.6"/>
<text x="233.40" y="60.40" font-size="14" font-weight="normal" text-anchor="start" fill="#000" stroke="#000" stroke-width="0.15">Blank</text>
<line x1="204" y1="82.5" x2="223" y2="82.5" stroke="#8E5C10" stroke-width="2.6"/>
<text x="234.20" y="89.10" font-size="14" font-weight="normal" text-anchor="start" fill="#000" stroke="#000" stroke-width="0.15">10</text>
<text x="250.20" y="82.70" font-size="10" font-weight="normal" text-anchor="start" fill="#000" stroke="#000" stroke-width="0.2">2</text>
<line x1="204" y1="106.5" x2="223" y2="106.5" stroke="#F57000" stroke-width="2.6"/>
<text x="234.20" y="113.10" font-size="14" font-weight="normal" text-anchor="start" fill="#000" stroke="#000" stroke-width="0.15">10</text>
<text x="250.20" y="106.70" font-size="10" font-weight="normal" text-anchor="start" fill="#000" stroke="#000" stroke-width="0.2">3</text>
<line x1="204" y1="130.5" x2="223" y2="130.5" stroke="#0000F0" stroke-width="2.6"/>
<text x="234.20" y="137.10" font-size="14" font-weight="normal" text-anchor="start" fill="#000" stroke="#000" stroke-width="0.15">10</text>
<text x="250.20" y="130.70" font-size="10" font-weight="normal" text-anchor="start" fill="#000" stroke="#000" stroke-width="0.2">4</text>
<line x1="204" y1="154.5" x2="223" y2="154.5" stroke="#F00070" stroke-width="2.6"/>
<text x="234.20" y="161.10" font-size="14" font-weight="normal" text-anchor="start" fill="#000" stroke="#000" stroke-width="0.15">10</text>
<text x="250.20" y="154.70" font-size="10" font-weight="normal" text-anchor="start" fill="#000" stroke="#000" stroke-width="0.2">5</text>
<line x1="204" y1="178.3" x2="223" y2="178.3" stroke="#00B400" stroke-width="2.6"/>
<text x="234.20" y="184.90" font-size="14" font-weight="normal" text-anchor="start" fill="#000" stroke="#000" stroke-width="0.15">10</text>
<text x="250.20" y="178.50" font-size="10" font-weight="normal" text-anchor="start" fill="#000" stroke="#000" stroke-width="0.2">6</text>
<line x1="204" y1="202.4" x2="223" y2="202.4" stroke="#920000" stroke-width="2.6"/>
<text x="234.20" y="209.00" font-size="14" font-weight="normal" text-anchor="start" fill="#000" stroke="#000" stroke-width="0.15">10</text>
<text x="250.20" y="202.60" font-size="10" font-weight="normal" text-anchor="start" fill="#000" stroke="#000" stroke-width="0.2">7</text>
<rect x="415.3" y="34.2" width="245.09999999999997" height="244.8" fill="none" stroke="#000" stroke-width="2.0"/>
<line x1="407.90" y1="279.00" x2="415.30" y2="279.00" stroke="#000" stroke-width="2.0" />
<text x="406.10" y="283.90" font-size="13.5" font-weight="bold" text-anchor="end" fill="#000" >0</text>
<line x1="407.90" y1="217.80" x2="415.30" y2="217.80" stroke="#000" stroke-width="2.0" />
<text x="406.10" y="222.70" font-size="13.5" font-weight="bold" text-anchor="end" fill="#000" >1000</text>
<line x1="407.90" y1="156.60" x2="415.30" y2="156.60" stroke="#000" stroke-width="2.0" />
<text x="406.10" y="161.50" font-size="13.5" font-weight="bold" text-anchor="end" fill="#000" >2000</text>
<line x1="407.90" y1="95.40" x2="415.30" y2="95.40" stroke="#000" stroke-width="2.0" />
<text x="406.10" y="100.30" font-size="13.5" font-weight="bold" text-anchor="end" fill="#000" >3000</text>
<line x1="407.90" y1="34.20" x2="415.30" y2="34.20" stroke="#000" stroke-width="2.0" />
<text x="406.10" y="39.10" font-size="13.5" font-weight="bold" text-anchor="end" fill="#000" >4000</text>
<line x1="415.30" y1="279.00" x2="415.30" y2="286.20" stroke="#000" stroke-width="2.0" />
<line x1="497.00" y1="279.00" x2="497.00" y2="286.20" stroke="#000" stroke-width="2.0" />
<line x1="578.70" y1="279.00" x2="578.70" y2="286.20" stroke="#000" stroke-width="2.0" />
<line x1="660.40" y1="279.00" x2="660.40" y2="286.20" stroke="#000" stroke-width="2.0" />
<text x="415.30" y="301.90" font-size="13.5" font-weight="bold" text-anchor="middle" fill="#000" >0</text>
<text x="497.30" y="301.9" font-size="13.5" font-weight="bold" text-anchor="middle">5×10<tspan font-size="9" dy="-4.8">6</tspan></text>
<text x="579.00" y="301.9" font-size="13.5" font-weight="bold" text-anchor="middle">1×10<tspan font-size="9" dy="-4.8">7</tspan></text>
<text x="661.00" y="301.9" font-size="13.5" font-weight="bold" text-anchor="middle">1.5×10<tspan font-size="9" dy="-4.8">7</tspan></text>
<text x="538.45" y="323.40" font-size="14.8" font-weight="bold" text-anchor="middle" fill="#000" >Concentration of <tspan font-style="italic">S. aureus</tspan> (cfu/mL)</text>
<text x="0.00" y="0.00" font-size="14.5" font-weight="bold" text-anchor="middle" transform="translate(368.4,157.10) rotate(-90)" fill="#000" >Fluorescence intensity <tspan font-style="italic">(a.u.)</tspan></text>
<rect x="502.6" y="124.7" width="126.69999999999993" height="126.8" fill="none" stroke="#000" stroke-width="1.1"/>
<line x1="499.00" y1="251.50" x2="502.60" y2="251.50" stroke="#000" stroke-width="1.1" />
<text x="497.40" y="253.90" font-size="6.8" font-weight="bold" text-anchor="end" fill="#000" stroke="#000" stroke-width="0.25">0</text>
<line x1="499.00" y1="219.80" x2="502.60" y2="219.80" stroke="#000" stroke-width="1.1" />
<text x="497.40" y="222.20" font-size="6.8" font-weight="bold" text-anchor="end" fill="#000" stroke="#000" stroke-width="0.25">1000</text>
<line x1="499.00" y1="188.10" x2="502.60" y2="188.10" stroke="#000" stroke-width="1.1" />
<text x="497.40" y="190.50" font-size="6.8" font-weight="bold" text-anchor="end" fill="#000" stroke="#000" stroke-width="0.25">2000</text>
<line x1="499.00" y1="156.40" x2="502.60" y2="156.40" stroke="#000" stroke-width="1.1" />
<text x="497.40" y="158.80" font-size="6.8" font-weight="bold" text-anchor="end" fill="#000" stroke="#000" stroke-width="0.25">3000</text>
<line x1="499.00" y1="124.70" x2="502.60" y2="124.70" stroke="#000" stroke-width="1.1" />
<text x="497.40" y="127.10" font-size="6.8" font-weight="bold" text-anchor="end" fill="#000" stroke="#000" stroke-width="0.25">4000</text>
<line x1="520.70" y1="251.50" x2="520.70" y2="254.60" stroke="#000" stroke-width="1.1" />
<text x="520.70" y="263.10" font-size="6.8" font-weight="bold" text-anchor="middle" fill="#000" stroke="#000" stroke-width="0.25">2</text>
<line x1="556.90" y1="251.50" x2="556.90" y2="254.60" stroke="#000" stroke-width="1.1" />
<text x="556.90" y="263.10" font-size="6.8" font-weight="bold" text-anchor="middle" fill="#000" stroke="#000" stroke-width="0.25">4</text>
<line x1="593.10" y1="251.50" x2="593.10" y2="254.60" stroke="#000" stroke-width="1.1" />
<text x="593.10" y="263.10" font-size="6.8" font-weight="bold" text-anchor="middle" fill="#000" stroke="#000" stroke-width="0.25">6</text>
<line x1="629.30" y1="251.50" x2="629.30" y2="254.60" stroke="#000" stroke-width="1.1" />
<text x="629.30" y="263.10" font-size="6.8" font-weight="bold" text-anchor="middle" fill="#000" stroke="#000" stroke-width="0.25">8</text>
<line x1="520.70" y1="232.80" x2="611.20" y2="156.40" stroke="#D02828" stroke-width="1.4"/>
<circle cx="520.70" cy="232.54" r="2.7" fill="#000"/>
<line x1="538.80" y1="212.83" x2="538.80" y2="219.80" stroke="#000" stroke-width="1.1" />
<line x1="536.00" y1="212.83" x2="541.60" y2="212.83" stroke="#000" stroke-width="1.3" />
<line x1="536.00" y1="219.80" x2="541.60" y2="219.80" stroke="#000" stroke-width="1.3" />
<circle cx="538.80" cy="216.31" r="2.7" fill="#000"/>
<line x1="556.90" y1="197.64" x2="556.90" y2="203.35" stroke="#000" stroke-width="1.1" />
<line x1="554.10" y1="197.64" x2="559.70" y2="197.64" stroke="#000" stroke-width="1.3" />
<line x1="554.10" y1="203.35" x2="559.70" y2="203.35" stroke="#000" stroke-width="1.3" />
<circle cx="556.90" cy="200.49" r="2.7" fill="#000"/>
<line x1="575.00" y1="182.93" x2="575.00" y2="189.91" stroke="#000" stroke-width="1.1" />
<line x1="572.20" y1="182.93" x2="577.80" y2="182.93" stroke="#000" stroke-width="1.3" />
<line x1="572.20" y1="189.91" x2="577.80" y2="189.91" stroke="#000" stroke-width="1.3" />
<circle cx="575.00" cy="186.42" r="2.7" fill="#000"/>
<line x1="593.10" y1="169.08" x2="593.10" y2="177.32" stroke="#000" stroke-width="1.1" />
<line x1="590.30" y1="169.08" x2="595.90" y2="169.08" stroke="#000" stroke-width="1.3" />
<line x1="590.30" y1="177.32" x2="595.90" y2="177.32" stroke="#000" stroke-width="1.3" />
<circle cx="593.10" cy="173.20" r="2.7" fill="#000"/>
<line x1="611.20" y1="153.23" x2="611.20" y2="158.94" stroke="#000" stroke-width="1.1" />
<line x1="608.40" y1="153.23" x2="614.00" y2="153.23" stroke="#000" stroke-width="1.3" />
<line x1="608.40" y1="158.94" x2="614.00" y2="158.94" stroke="#000" stroke-width="1.3" />
<circle cx="611.20" cy="156.08" r="2.7" fill="#000"/>
<path d="M415.70,279.00 L415.70,278.52 L415.70,278.04 L415.70,277.56 L415.70,277.08 L415.70,276.60 L415.70,276.12 L415.70,275.64 L415.70,275.16 L415.70,274.68 L415.70,274.20 L415.70,273.72 L415.70,273.23 L415.70,272.75 L415.70,272.27 L415.70,271.79 L415.70,271.31 L415.70,270.83 L415.70,270.35 L415.70,269.87 L415.70,269.39 L415.70,268.91 L415.70,268.43 L415.70,267.95 L415.70,267.47 L415.70,266.99 L415.70,266.51 L415.70,266.03 L415.70,265.55 L415.70,265.07 L415.70,264.59 L415.70,264.11 L415.70,263.63 L415.70,263.15 L415.70,262.66 L415.70,262.18 L415.70,261.70 L415.70,261.22 L415.70,260.74 L415.70,260.26 L415.70,259.78 L415.70,259.30 L415.70,258.82 L415.71,258.34 L415.71,257.86 L415.71,257.38 L415.71,256.90 L415.71,256.42 L415.71,255.94 L415.71,255.46 L415.71,254.98 L415.71,254.50 L415.71,254.02 L415.71,253.54 L415.71,253.06 L415.71,252.58 L415.71,252.09 L415.71,251.61 L415.71,251.13 L415.71,250.65 L415.71,250.17 L415.71,249.69 L415.71,249.21 L415.71,248.73 L415.71,248.25 L415.71,247.77 L415.71,247.29 L415.71,246.81 L415.71,246.33 L415.71,245.85 L415.71,245.37 L415.71,244.89 L415.72,244.41 L415.72,243.93 L415.72,243.45 L415.72,242.97 L415.72,242.49 L415.72,242.01 L415.72,241.52 L415.72,241.04 L415.72,240.56 L415.72,240.08 L415.72,239.60 L415.72,239.12 L415.72,238.64 L415.72,238.16 L415.72,237.68 L415.72,237.20 L415.72,236.72 L415.72,236.24 L415.72,235.76 L415.73,235.28 L415.73,234.80 L415.73,234.32 L415.73,233.84 L415.73,233.36 L415.73,232.88 L415.73,232.40 L415.73,231.92 L415.73,231.44 L415.73,230.95 L415.73,230.47 L415.73,229.99 L415.73,229.51 L415.73,229.03 L415.73,228.55 L415.73,228.07 L415.74,227.59 L415.74,227.11 L415.74,226.63 L415.74,226.15 L415.74,225.67 L415.74,225.19 L415.74,224.71 L415.74,224.23 L415.74,223.75 L415.74,223.27 L415.74,222.79 L415.74,222.31 L415.74,221.83 L415.75,221.35 L415.75,220.87 L415.75,220.38 L415.75,219.90 L415.75,219.42 L415.75,218.94 L415.75,218.46 L415.75,217.98 L415.75,217.50 L415.75,217.02 L415.75,216.54 L415.76,216.06 L415.76,215.58 L415.76,215.10 L415.76,214.62 L415.76,214.14 L415.76,213.66 L415.76,213.18 L415.76,212.70 L415.76,212.22 L415.76,211.74 L415.77,211.26 L415.77,210.78 L415.77,210.30 L415.77,209.82 L415.77,209.33 L415.77,208.85 L415.77,208.37 L415.77,207.89 L415.77,207.41 L415.77,206.93 L415.78,206.45 L415.78,205.97 L415.78,205.49 L415.78,205.01 L415.78,204.53 L415.78,204.05 L415.78,203.57 L415.78,203.09 L415.79,202.61 L415.79,202.13 L415.79,201.65 L415.79,201.17 L415.79,200.69 L415.79,200.21 L415.79,199.73 L415.79,199.25 L415.80,198.76 L415.80,198.28 L415.80,197.80 L415.80,197.32 L415.80,196.84 L415.80,196.36 L415.80,195.88 L415.81,195.40 L415.81,194.92 L415.81,194.44 L415.82,193.96 L415.82,193.48 L415.82,193.00 L415.83,192.52 L415.83,192.04 L415.84,191.56 L415.84,191.08 L415.85,190.60 L415.86,190.12 L415.86,189.64 L415.87,189.16 L415.88,188.68 L415.88,188.19 L415.89,187.71 L415.90,187.23 L415.91,186.75 L415.92,186.27 L415.93,185.79 L415.94,185.31 L415.95,184.83 L415.96,184.35 L415.97,183.87 L415.98,183.39 L415.99,182.91 L416.00,182.43 L416.01,181.95 L416.02,181.47 L416.04,180.99 L416.05,180.51 L416.06,180.03 L416.07,179.55 L416.09,179.07 L416.10,178.59 L416.12,178.11 L416.13,177.62 L416.15,177.14 L416.16,176.66 L416.18,176.18 L416.19,175.70 L416.21,175.22 L416.22,174.74 L416.24,174.26 L416.26,173.78 L416.27,173.30 L416.29,172.82 L416.31,172.34 L416.33,171.86 L416.36,171.38 L416.39,170.90 L416.42,170.42 L416.46,169.94 L416.50,169.46 L416.54,168.98 L416.59,168.50 L416.63,168.02 L416.68,167.54 L416.73,167.05 L416.78,166.57 L416.83,166.09 L416.88,165.61 L416.93,165.13 L416.97,164.65 L417.02,164.17 L417.07,163.69 L417.12,163.21 L417.17,162.73 L417.21,162.25 L417.26,161.77 L417.31,161.29 L417.36,160.81 L417.41,160.33 L417.47,159.85 L417.52,159.37 L417.57,158.89 L417.63,158.41 L417.69,157.93 L417.75,157.45 L417.82,156.97 L417.88,156.48 L417.95,156.00 L418.03,155.52 L418.10,155.04 L418.18,154.56 L418.27,154.08 L418.36,153.60 L418.46,153.12 L418.57,152.64 L418.69,152.16 L418.82,151.68 L418.96,151.20 L419.10,150.72 L419.26,150.24 L419.42,149.76 L419.58,149.28 L419.75,148.80 L419.92,148.32 L420.10,147.84 L420.28,147.36 L420.47,146.88 L420.68,146.40 L420.89,145.92 L421.10,145.43 L421.33,144.95 L421.56,144.47 L421.80,143.99 L422.05,143.51 L422.30,143.03 L422.55,142.55 L422.82,142.07 L423.08,141.59 L423.36,141.11 L423.63,140.63 L423.91,140.15 L424.20,139.67 L424.51,139.19 L424.83,138.71 L425.17,138.23 L425.52,137.75 L425.88,137.27 L426.23,136.79 L426.58,136.31 L426.93,135.83 L427.27,135.35 L427.59,134.86 L427.89,134.38 L428.17,133.90 L428.44,133.42 L428.70,132.94 L428.97,132.46 L429.23,131.98 L429.50,131.50 L429.78,131.02 L430.08,130.54 L430.39,130.06 L430.74,129.58 L431.11,129.10 L431.52,128.62 L431.96,128.14 L432.46,127.66 L433.13,127.18 L433.96,126.70 L434.88,126.22 L435.83,125.74 L436.73,125.26 L437.55,124.78 L438.35,124.29 L439.13,123.81 L439.91,123.33 L440.68,122.85 L441.44,122.37 L442.20,121.89 L442.96,121.41 L443.72,120.93 L444.49,120.45 L445.26,119.97 L446.05,119.49 L446.85,119.01 L447.66,118.53 L448.50,118.05 L449.36,117.57 L450.24,117.09 L451.14,116.61 L452.05,116.13 L452.98,115.65 L453.92,115.17 L454.87,114.69 L455.84,114.21 L456.83,113.72 L457.84,113.24 L458.88,112.76 L459.93,112.28 L461.01,111.80 L462.11,111.32 L463.24,110.84 L464.41,110.36 L465.60,109.88 L466.81,109.40 L468.06,108.92 L469.34,108.44 L470.66,107.96 L472.02,107.48 L473.44,107.00 L474.91,106.52 L476.45,106.04 L478.05,105.56 L479.73,105.08 L481.49,104.60 L483.44,104.12 L485.59,103.64 L487.87,103.15 L490.22,102.67 L492.60,102.19 L494.94,101.71 L497.22,101.23 L499.50,100.75 L501.77,100.27 L504.04,99.79 L506.32,99.31 L508.60,98.83 L510.90,98.35 L513.22,97.87 L515.57,97.39 L517.94,96.91 L520.35,96.43 L522.80,95.95 L525.30,95.47 L527.85,94.99 L530.45,94.51 L533.12,94.03 L535.85,93.55 L538.66,93.07 L541.53,92.58 L544.46,92.10 L547.46,91.62 L550.52,91.14 L553.63,90.66 L556.81,90.18 L560.03,89.70 L563.31,89.22 L566.63,88.74 L570.00,88.26 L573.42,87.78 L576.88,87.30" fill="none" stroke="#0000FF" stroke-width="1.7"/>
<circle cx="415.30" cy="267.70" r="5.0" fill="#000"/>
<circle cx="415.30" cy="242.80" r="5.0" fill="#000"/>
<line x1="415.50" y1="205.80" x2="415.50" y2="217.60" stroke="#000" stroke-width="1.8" />
<line x1="410.30" y1="205.80" x2="420.70" y2="205.80" stroke="#000" stroke-width="1.8" />
<line x1="410.30" y1="217.60" x2="420.70" y2="217.60" stroke="#000" stroke-width="1.8" />
<circle cx="415.50" cy="211.80" r="5.0" fill="#000"/>
<line x1="415.60" y1="175.10" x2="415.60" y2="187.20" stroke="#000" stroke-width="1.8" />
<line x1="410.40" y1="175.10" x2="420.80" y2="175.10" stroke="#000" stroke-width="1.8" />
<line x1="410.40" y1="187.20" x2="420.80" y2="187.20" stroke="#000" stroke-width="1.8" />
<circle cx="415.60" cy="181.20" r="5.0" fill="#000"/>
<line x1="417.20" y1="146.20" x2="417.20" y2="161.40" stroke="#000" stroke-width="1.8" />
<line x1="412.00" y1="146.20" x2="422.40" y2="146.20" stroke="#000" stroke-width="1.8" />
<line x1="412.00" y1="161.40" x2="422.40" y2="161.40" stroke="#000" stroke-width="1.8" />
<circle cx="417.20" cy="153.90" r="5.0" fill="#000"/>
<line x1="431.90" y1="119.80" x2="431.90" y2="136.00" stroke="#000" stroke-width="1.8" />
<line x1="426.70" y1="119.80" x2="437.10" y2="119.80" stroke="#000" stroke-width="1.8" />
<line x1="426.70" y1="136.00" x2="437.10" y2="136.00" stroke="#000" stroke-width="1.8" />
<circle cx="431.90" cy="127.80" r="5.0" fill="#000"/>
<line x1="579.00" y1="88.40" x2="579.00" y2="100.20" stroke="#000" stroke-width="1.8" />
<line x1="573.80" y1="88.40" x2="584.20" y2="88.40" stroke="#000" stroke-width="1.8" />
<line x1="573.80" y1="100.20" x2="584.20" y2="100.20" stroke="#000" stroke-width="1.8" />
<circle cx="579.00" cy="94.40" r="5.0" fill="#000"/>
<rect x="276.7" y="361.2" width="245.40000000000003" height="244.90000000000003" fill="none" stroke="#000" stroke-width="2.0"/>
<line x1="268.70" y1="606.10" x2="276.70" y2="606.10" stroke="#000" stroke-width="2.0" />
<text x="266.80" y="611.00" font-size="13.5" font-weight="bold" text-anchor="end" fill="#000" >0</text>
<line x1="268.70" y1="557.12" x2="276.70" y2="557.12" stroke="#000" stroke-width="2.0" />
<text x="266.80" y="562.02" font-size="13.5" font-weight="bold" text-anchor="end" fill="#000" >500</text>
<line x1="268.70" y1="508.14" x2="276.70" y2="508.14" stroke="#000" stroke-width="2.0" />
<text x="266.80" y="513.04" font-size="13.5" font-weight="bold" text-anchor="end" fill="#000" >1000</text>
<line x1="268.70" y1="459.16" x2="276.70" y2="459.16" stroke="#000" stroke-width="2.0" />
<text x="266.80" y="464.06" font-size="13.5" font-weight="bold" text-anchor="end" fill="#000" >1500</text>
<line x1="268.70" y1="410.18" x2="276.70" y2="410.18" stroke="#000" stroke-width="2.0" />
<text x="266.80" y="415.08" font-size="13.5" font-weight="bold" text-anchor="end" fill="#000" >2000</text>
<line x1="268.70" y1="361.20" x2="276.70" y2="361.20" stroke="#000" stroke-width="2.0" />
<text x="266.80" y="366.10" font-size="13.5" font-weight="bold" text-anchor="end" fill="#000" >2500</text>
<rect x="290.80" y="599.70" width="22.8" height="6.40" fill="#D3D3D3" stroke="#000" stroke-width="2.4"/>
<line x1="302.20" y1="596.40" x2="302.20" y2="599.70" stroke="#000" stroke-width="1.8" />
<line x1="296.10" y1="596.40" x2="308.30" y2="596.40" stroke="#000" stroke-width="1.8" />
<line x1="302.20" y1="606.10" x2="302.20" y2="613.60" stroke="#000" stroke-width="2.0" />
<rect x="329.56" y="597.60" width="22.8" height="8.50" fill="#D3D3D3" stroke="#000" stroke-width="2.4"/>
<line x1="340.96" y1="592.60" x2="340.96" y2="597.60" stroke="#000" stroke-width="1.8" />
<line x1="334.86" y1="592.60" x2="347.06" y2="592.60" stroke="#000" stroke-width="1.8" />
<line x1="340.96" y1="606.10" x2="340.96" y2="613.60" stroke="#000" stroke-width="2.0" />
<rect x="368.32" y="598.40" width="22.8" height="7.70" fill="#D3D3D3" stroke="#000" stroke-width="2.4"/>
<line x1="379.72" y1="594.00" x2="379.72" y2="598.40" stroke="#000" stroke-width="1.8" />
<line x1="373.62" y1="594.00" x2="385.82" y2="594.00" stroke="#000" stroke-width="1.8" />
<line x1="379.72" y1="606.10" x2="379.72" y2="613.60" stroke="#000" stroke-width="2.0" />
<rect x="407.08" y="595.90" width="22.8" height="10.20" fill="#D3D3D3" stroke="#000" stroke-width="2.4"/>
<line x1="418.48" y1="589.20" x2="418.48" y2="595.90" stroke="#000" stroke-width="1.8" />
<line x1="412.38" y1="589.20" x2="424.58" y2="589.20" stroke="#000" stroke-width="1.8" />
<line x1="418.48" y1="606.10" x2="418.48" y2="613.60" stroke="#000" stroke-width="2.0" />
<rect x="445.84" y="594.80" width="22.8" height="11.30" fill="#D3D3D3" stroke="#000" stroke-width="2.4"/>
<line x1="457.24" y1="588.80" x2="457.24" y2="594.80" stroke="#000" stroke-width="1.8" />
<line x1="451.14" y1="588.80" x2="463.34" y2="588.80" stroke="#000" stroke-width="1.8" />
<line x1="457.24" y1="606.10" x2="457.24" y2="613.60" stroke="#000" stroke-width="2.0" />
<rect x="484.60" y="399.70" width="22.8" height="206.40" fill="#D3D3D3" stroke="#000" stroke-width="2.4"/>
<line x1="496.00" y1="386.60" x2="496.00" y2="399.70" stroke="#000" stroke-width="1.8" />
<line x1="489.90" y1="386.60" x2="502.10" y2="386.60" stroke="#000" stroke-width="1.8" />
<line x1="496.00" y1="606.10" x2="496.00" y2="613.60" stroke="#000" stroke-width="2.0" />
<line x1="268.70" y1="606.10" x2="522.10" y2="606.10" stroke="#000" stroke-width="2.0" />
<text x="0.00" y="0.00" font-size="13.8" font-weight="bold" text-anchor="end" transform="translate(307.10,625.40) rotate(-45)" fill="#000" >Blank</text>
<text x="0.00" y="0.00" font-size="13.8" font-weight="bold" text-anchor="end" font-style="italic" transform="translate(345.86,625.40) rotate(-45)" fill="#000" >P. aeruginosa</text>
<text x="0.00" y="0.00" font-size="13.8" font-weight="bold" text-anchor="end" font-style="italic" transform="translate(384.62,625.40) rotate(-45)" fill="#000" >E. coli</text>
<text x="0.00" y="0.00" font-size="13.8" font-weight="bold" text-anchor="end" font-style="italic" transform="translate(423.38,625.40) rotate(-45)" fill="#000" >S. enterica</text>
<text x="0.00" y="0.00" font-size="13.8" font-weight="bold" text-anchor="end" font-style="italic" transform="translate(462.14,625.40) rotate(-45)" fill="#000" >S. epidermidis</text>
<text x="0.00" y="0.00" font-size="13.8" font-weight="bold" text-anchor="end" font-style="italic" transform="translate(500.90,625.40) rotate(-45)" fill="#000" >S. aureus</text>
<text x="399.40" y="714.10" font-size="14.8" font-weight="bold" text-anchor="middle" fill="#000" >Selectivity of the method to</text>
<text x="399.40" y="730.10" font-size="14.8" font-weight="bold" text-anchor="middle" fill="#000" >interfering bacteria</text>
<text x="0.00" y="0.00" font-size="14.5" font-weight="bold" text-anchor="middle" transform="translate(230.3,483.25) rotate(-90)" fill="#000" >Fluorescence intensity <tspan font-style="italic">(a.u.)</tspan></text>
</g></svg>
</body></html>
